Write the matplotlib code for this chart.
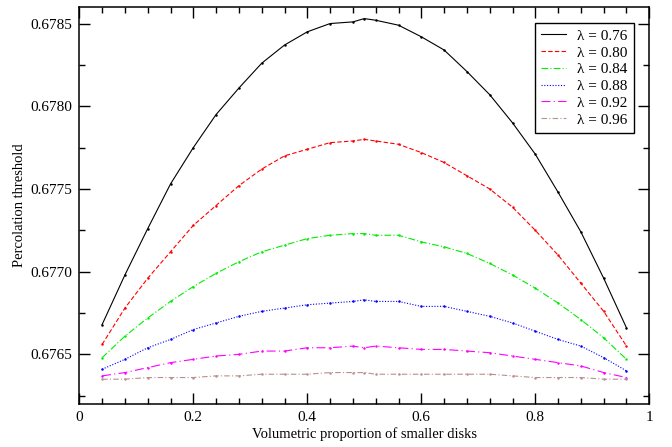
import matplotlib
matplotlib.use("Agg")
import matplotlib.pyplot as plt
from matplotlib.lines import Line2D
from matplotlib.ticker import MultipleLocator

# Volumetric proportion of the smaller disks
proportion = [0.04, 0.08, 0.12, 0.16, 0.20, 0.24, 0.28, 0.32, 0.36, 0.40, 0.44, 0.48, 0.50,
              0.52, 0.56, 0.60, 0.64, 0.68, 0.72, 0.76, 0.80, 0.84, 0.88, 0.92, 0.96]

# Percolation thresholds for each size ratio lambda
pc_076 = [0.67668, 0.67698, 0.67726, 0.67753, 0.67775, 0.67795, 0.67811, 0.67826, 0.67837,
          0.67845, 0.67850, 0.67851, 0.67853, 0.67852, 0.67849, 0.67842, 0.67834, 0.67821,
          0.67807, 0.67790, 0.67771, 0.67748, 0.67724, 0.67696, 0.67666]
pc_080 = [0.67656, 0.67678, 0.67696, 0.67712, 0.67728, 0.67740, 0.67752, 0.67762, 0.67770,
          0.67774, 0.67778, 0.67779, 0.67780, 0.67779, 0.67777, 0.67772, 0.67766, 0.67758,
          0.67750, 0.67739, 0.67725, 0.67710, 0.67693, 0.67676, 0.67655]
pc_084 = [0.67648, 0.67661, 0.67672, 0.67682, 0.67691, 0.67699, 0.67706, 0.67712, 0.67716,
          0.67720, 0.67722, 0.67723, 0.67723, 0.67722, 0.67722, 0.67718, 0.67715, 0.67711,
          0.67705, 0.67698, 0.67690, 0.67681, 0.67671, 0.67660, 0.67647]
pc_088 = [0.67641, 0.67647, 0.67654, 0.67659, 0.67665, 0.67669, 0.67673, 0.67676, 0.67678,
          0.67680, 0.67681, 0.67682, 0.67683, 0.67682, 0.67682, 0.67679, 0.67679, 0.67676,
          0.67673, 0.67669, 0.67664, 0.67659, 0.67655, 0.67648, 0.67640]
pc_092 = [0.67637, 0.67639, 0.67642, 0.67645, 0.67647, 0.67649, 0.67650, 0.67652, 0.67652,
          0.67654, 0.67654, 0.67655, 0.67654, 0.67655, 0.67654, 0.67653, 0.67653, 0.67652,
          0.67651, 0.67649, 0.67647, 0.67645, 0.67643, 0.67639, 0.67636]
pc_096 = [0.67635, 0.67635, 0.67636, 0.67636, 0.67636, 0.67637, 0.67637, 0.67638, 0.67638,
          0.67638, 0.67639, 0.67639, 0.67639, 0.67638, 0.67638, 0.67638, 0.67638, 0.67638,
          0.67638, 0.67637, 0.67636, 0.67636, 0.67636, 0.67635, 0.67635]

labels = ["λ = 0.76", "λ = 0.80", "λ = 0.84", "λ = 0.88", "λ = 0.92", "λ = 0.96"]

plt.rcParams["font.family"] = ["Liberation Serif", "DejaVu Serif"]

series = [pc_076, pc_080, pc_084, pc_088, pc_092, pc_096]
colors = ["black", "#ff0000", "#00ee00", "#0000ff", "#ff00ff", "#bc8f8f"]
styles = ["-", (0, (4, 2)), (0, (6, 2, 1, 2)), (0, (1, 1.5)), (0, (8, 3, 1, 3)), (0, (5, 2, 1, 2))]

fig = plt.figure(figsize=(6.72, 4.47), dpi=100)
ax = fig.add_axes([79.3 / 672, 1 - 404 / 447, 570 / 672, 397 / 447])

handles = []
for vals, col, ls, lab in zip(series, colors, styles, labels):
    ax.plot(proportion, vals, color=col, linestyle=ls, linewidth=0.8,
            marker=".", markersize=1.6)
    handles.append(Line2D([], [], color=col, linestyle=ls, linewidth=0.8))

ax.set_xlim(0, 1)
ax.set_ylim(0.67620, 0.67860)
ax.xaxis.set_major_locator(MultipleLocator(0.2))
ax.xaxis.set_minor_locator(MultipleLocator(0.04))
ax.yaxis.set_major_locator(MultipleLocator(0.0005))
ax.yaxis.set_minor_locator(MultipleLocator(0.00025))


def fmt_x(v, pos):
    v = round(v, 6)
    if v == 0 or v == 1:
        return f"{int(v)}"
    return f"{v:.1f}"


ax.xaxis.set_major_formatter(plt.FuncFormatter(fmt_x))
ax.yaxis.set_major_formatter(plt.FuncFormatter(lambda v, p: f"{v:.4f}"))

ax.tick_params(which="both", direction="in", top=True, right=True, width=1.0)
ax.tick_params(which="major", length=8, labelsize=11, pad=5)
ax.tick_params(which="minor", length=4.5)
for sp in ax.spines.values():
    sp.set_linewidth(1.1)

ax.set_xlabel("Volumetric proportion of smaller disks", fontsize=10.5, labelpad=2)
ax.set_ylabel("Percolation threshold", fontsize=10.5, labelpad=3)

leg = ax.legend(handles, labels, loc="upper left", bbox_to_anchor=(535 / 672, 1 - 23 / 447),
                bbox_transform=fig.transFigure, borderaxespad=0, fontsize=11,
                handlelength=1.6, labelspacing=0.2, handletextpad=0.75,
                borderpad=0.4, fancybox=False, framealpha=1)
leg.get_frame().set_edgecolor("black")
leg.get_frame().set_linewidth(1.0)

fig.savefig("out.png", dpi=100)
